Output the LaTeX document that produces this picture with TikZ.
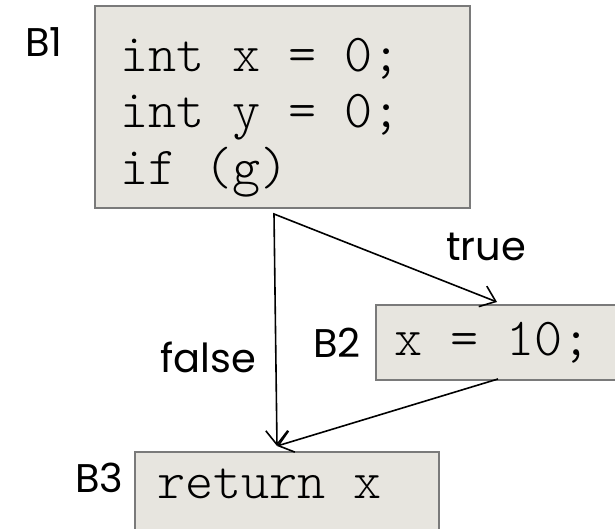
\documentclass[tikz,border=0pt]{standalone}
\usepackage{fontspec}
\setmainfont{Poppins}
\newfontfamily\codefont{lmmonolt10-regular.otf}
\usetikzlibrary{arrows.meta}
\definecolor{boxfill}{HTML}{E7E5DF}
\definecolor{boxline}{HTML}{7A7A7A}
\begin{document}
\begin{tikzpicture}[x=1pt,y=-1pt,
  blk/.style={draw=boxline, fill=boxfill, line width=2pt, anchor=north west, inner sep=0},
  code/.style={font=\codefont\fontsize{53.5}{56}\selectfont, anchor=base west, inner sep=0},
  lbl/.style={font=\fontsize{40}{48}\selectfont, anchor=base west, inner sep=0},
  edge/.style={line width=1.6pt, line join=miter}]
\useasboundingbox (0,0) rectangle (615,529);
% blocks
\node[blk, minimum width=375pt, minimum height=202pt] (B1) at (94,5) {};
\node[blk, minimum width=265pt, minimum height=75pt] (B2) at (375,304) {};
\node[blk, minimum width=304pt, minimum height=100pt] (B3) at (134,451) {};
% code
\node[code] (c1) at (120,72) {int x = 0;};
\node[code] (c2) at (120,128) {int y = 0;};
\node[code] (c3) at (120,185) {if (g)};
\node[code] (c4) at (394,355) {x = 10;};
\node[code] (c5) at (157,498) {return x};
% labels
\node[lbl] (l1) at (25,57) {B1};
\node[lbl] (l2) at (313,357) {B2};
\node[lbl] (l3) at (75,492) {B3};
\node[lbl] (lt) at (446,260) {true};
\node[lbl] (lf) at (160,372) {false};
% connector points
\coordinate (s) at (274,214);
\coordinate (t3) at (277,446);
\coordinate (t2) at (497,302);
\coordinate (b2) at (498,379);
\draw[edge, {Straight Barb[length=14pt,width=22pt]}-{Straight Barb[length=14pt,width=22pt]}] (t3) -- (s) -- (t2);
\draw[edge, -{Straight Barb[length=14pt,width=22pt]}] (b2) -- (t3);
\end{tikzpicture}
\end{document}
